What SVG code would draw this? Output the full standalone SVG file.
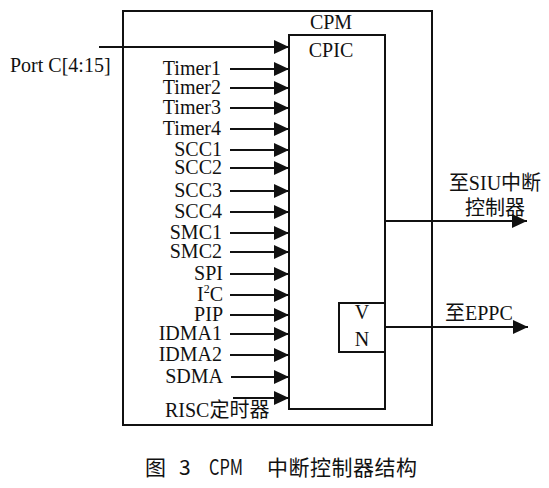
<svg xmlns="http://www.w3.org/2000/svg" width="549" height="488" viewBox="0 0 549 488">
<style>
.box{fill:none;stroke:#111;stroke-width:2}
.ln{stroke:#111;stroke-width:2;fill:none}
.t{font-family:"Liberation Serif","Noto Sans CJK SC",serif;font-size:20px;fill:#111}
.r{text-anchor:end}
.c{text-anchor:middle}
.cap{font-family:"Noto Sans CJK SC",sans-serif;font-size:21px;fill:#111}
</style>
<defs>
<marker id="ah" markerUnits="userSpaceOnUse" markerWidth="16" markerHeight="14" refX="15" refY="7" orient="auto">
<path d="M0,0 L15,7 L0,14 Z" fill="#111"/>
</marker>
</defs>
<rect width="549" height="488" fill="#fff"/>
<g id="cpm">
<rect class="box" x="123" y="11" width="309" height="414"/>
<text class="t c" x="331" y="29">CPM</text>
</g>
<g id="cpic">
<rect class="box" x="289" y="35" width="96" height="374"/>
<text class="t c" x="331" y="57">CPIC</text>
</g>
<g id="vn">
<rect class="box" x="339" y="303" width="46" height="49"/>
<text class="t c" x="362" y="319">V</text>
<text class="t c" x="362" y="346">N</text>
</g>
<g id="labels">
<text class="t" x="10" y="72">Port C[4:15]</text>
<text class="t r" x="221" y="75">Timer1</text>
<text class="t r" x="221" y="94">Timer2</text>
<text class="t r" x="221" y="114">Timer3</text>
<text class="t r" x="221" y="135">Timer4</text>
<text class="t r" x="222" y="156">SCC1</text>
<text class="t r" x="222" y="174">SCC2</text>
<text class="t r" x="222" y="197">SCC3</text>
<text class="t r" x="222" y="218">SCC4</text>
<text class="t r" x="222" y="239">SMC1</text>
<text class="t r" x="222" y="258">SMC2</text>
<text class="t r" x="223" y="280">SPI</text>
<text class="t r" x="223" y="301">I<tspan font-size="12" dy="-8">2</tspan><tspan dy="8">C</tspan></text>
<text class="t r" x="223" y="321">PIP</text>
<text class="t r" x="222" y="340">IDMA1</text>
<text class="t r" x="222" y="361">IDMA2</text>
<text class="t r" x="223" y="383">SDMA</text>
<text class="t" x="165" y="417">RISC定时器</text>
<text class="t c" x="495" y="190">至SIU中断</text>
<text class="t c" x="495" y="215">控制器</text>
<text class="t" x="445" y="320">至EPPC</text>
</g>
<g id="connectors">
<line class="ln" x1="99" y1="47" x2="289" y2="47" marker-end="url(#ah)"/>
<line class="ln" x1="230" y1="69" x2="289" y2="69" marker-end="url(#ah)"/>
<line class="ln" x1="230" y1="88" x2="289" y2="88" marker-end="url(#ah)"/>
<line class="ln" x1="230" y1="108" x2="289" y2="108" marker-end="url(#ah)"/>
<line class="ln" x1="230" y1="129" x2="289" y2="129" marker-end="url(#ah)"/>
<line class="ln" x1="230" y1="150" x2="289" y2="150" marker-end="url(#ah)"/>
<line class="ln" x1="230" y1="168" x2="289" y2="168" marker-end="url(#ah)"/>
<line class="ln" x1="230" y1="191" x2="289" y2="191" marker-end="url(#ah)"/>
<line class="ln" x1="230" y1="212" x2="289" y2="212" marker-end="url(#ah)"/>
<line class="ln" x1="230" y1="233" x2="289" y2="233" marker-end="url(#ah)"/>
<line class="ln" x1="230" y1="252" x2="289" y2="252" marker-end="url(#ah)"/>
<line class="ln" x1="230" y1="274" x2="289" y2="274" marker-end="url(#ah)"/>
<line class="ln" x1="230" y1="295" x2="289" y2="295" marker-end="url(#ah)"/>
<line class="ln" x1="230" y1="315" x2="289" y2="315" marker-end="url(#ah)"/>
<line class="ln" x1="230" y1="334" x2="289" y2="334" marker-end="url(#ah)"/>
<line class="ln" x1="230" y1="355" x2="289" y2="355" marker-end="url(#ah)"/>
<line class="ln" x1="231" y1="377" x2="289" y2="377" marker-end="url(#ah)"/>
<line class="ln" x1="233" y1="398" x2="289" y2="398" marker-end="url(#ah)"/>
<line class="ln" x1="385" y1="221" x2="527" y2="221" marker-end="url(#ah)"/>
<line class="ln" x1="385" y1="327" x2="528" y2="327" marker-end="url(#ah)"/>
</g>
<g id="caption">
<text class="cap" x="145" y="475">图</text>
<text class="cap" x="179" y="475">3</text>
<text class="cap" x="209" y="475" textLength="34" lengthAdjust="spacingAndGlyphs">CPM</text>
<text class="cap" x="267" y="475" textLength="150">中断控制器结构</text>
</g>
</svg>
